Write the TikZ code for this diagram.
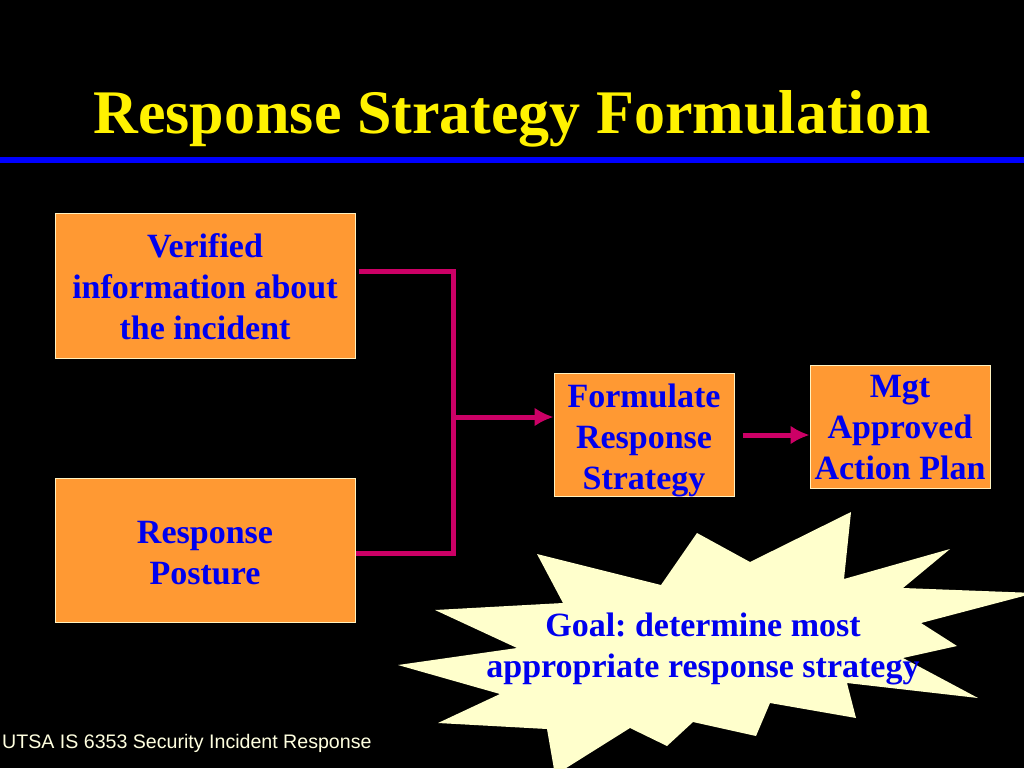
\documentclass[tikz,border=0pt]{standalone}
\usepackage{fontspec}
\setmainfont{Liberation Serif}
\setsansfont{Liberation Sans}
\usetikzlibrary{arrows.meta}
\definecolor{boxfill}{HTML}{FF9933}
\definecolor{boxline}{HTML}{FFF2C0}
\definecolor{textblue}{HTML}{0000EE}
\definecolor{flowred}{HTML}{CC0066}
\definecolor{starfill}{HTML}{FFFFCC}
\definecolor{footcream}{HTML}{FFFFE0}
\newcommand{\boxlines}[2]{\raisebox{#1}[\height][\depth]{\begin{tabular}{@{}c@{}}#2\end{tabular}}}
\tikzset{
  box/.style={draw=boxline, fill=boxfill, line width=1pt, text=textblue,
    font=\bfseries\fontsize{34}{41}\selectfont, inner sep=0pt},
  flow/.style={draw=flowred, line width=5pt}
}
\frenchspacing
\begin{document}
\begin{tikzpicture}[x=1pt,y=-1pt,>={Latex[length=19pt,width=19pt]}]
            % draw the background
            \useasboundingbox (0,0) rectangle (1024,768);
            \fill[black] (0,0) rectangle (1024,768);

            % title and rule
            \node[text=yellow, font=\bfseries\fontsize{62}{70}\selectfont] (title) at (512,119) {Response Strategy Formulation};
            \fill[blue] (0,157) rectangle (1024,163);

            % the boxes
            \node[box, minimum width=300pt, minimum height=145pt] (info) at (205,285.5) {\boxlines{-4.5pt}{Verified\\information about\\the incident}};
            \node[box, minimum width=300pt, minimum height=144pt] (posture) at (205,550) {\boxlines{-5.5pt}{Response\\Posture}};
            \node[box, minimum width=180pt, minimum height=120pt] (form) at (644,435) {\boxlines{-5pt}{Formulate\\Response\\Strategy}};
            \node[box, minimum width=180pt, minimum height=120pt] (plan) at (900,427) {\boxlines{-3.5pt}{Mgt\\Approved\\Action Plan}};

            % the bracket
            \coordinate (jtop) at (453,271);
            \coordinate (jbot) at (453,553);
            \coordinate (jmid) at (453,417);
            \draw[flow, shorten <=3pt] (info.east |- jtop) -- (jtop) -- (jbot) -- (posture.east |- jbot);
            \draw[flow, ->] (jmid) -- (form.west |- jmid);
            \draw[flow, ->, shorten <=8pt] (form.east) -- (form.east -| plan.west);

            % the star
            \fill[starfill] (851,512) -- (844,579) -- (950,549) -- (903,588) -- (1035,593)
                -- (921,623) -- (957,646) -- (903,658) -- (978,698) -- (847,683)
                -- (856,718) -- (770,703) -- (756,736) -- (693,722) -- (667,746)
                -- (630,728) -- (555,775) -- (547,729) -- (438,723) -- (500,694)
                -- (398,665) -- (517,648) -- (435,610) -- (563,603) -- (537,554)
                -- (661,585) -- (697,533) -- (750,562) -- cycle;
            \node[text=textblue, font=\bfseries\fontsize{34}{41}\selectfont, align=center] (goal) at (703,649) {Goal: determine most\\appropriate response strategy};

            % footer
            \node[anchor=west, inner sep=0pt, text=footcream, font=\sffamily\fontsize{19.6}{24}\selectfont] (foot) at (2,743) {UTSA IS 6353 Security Incident Response};
        \end{tikzpicture}
\end{document}
